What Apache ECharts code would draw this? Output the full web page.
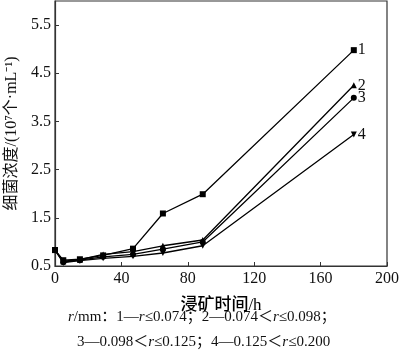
<!DOCTYPE html>
<html><head><meta charset="utf-8">
<script src="https://cdn.jsdelivr.net/npm/echarts@6/dist/echarts.min.js"></script>
<style>html,body{margin:0;padding:0;background:#fff}#c{width:400px;height:355px}</style>
</head><body><div id="c"></div>
<script>
const times = [0, 5, 15, 29, 47, 65, 89, 180];
const s1 = [0.83, 0.62, 0.64, 0.72, 0.86, 1.59, 1.99, 4.98];
const s2 = [0.83, 0.60, 0.63, 0.74, 0.80, 0.92, 1.04, 4.25];
const s3 = [0.83, 0.58, 0.62, 0.69, 0.74, 0.85, 1.00, 3.99];
const s4 = [0.83, 0.57, 0.61, 0.66, 0.70, 0.77, 0.92, 3.23];
const seriesNames = ['1', '2', '3', '4'];
const yTicks = [0.5, 1.5, 2.5, 3.5, 4.5, 5.5];
const xTicks = [0, 40, 80, 120, 160, 200];
const caption1 = '{i|r}/mm：1—{i|r}≤0.074；2—0.074＜{i|r}≤0.098；';
const caption2 = '3—0.098＜{i|r}≤0.125；4—0.125＜{i|r}≤0.200';

const serif = '"Liberation Serif","Times New Roman","Noto Sans CJK SC",serif';
const cjk = '"Liberation Serif","Noto Sans CJK SC",sans-serif';
const symbols = ['rect', 'triangle', 'circle', 'triangle'];
const rotates = [0, 0, 0, 180];
const allData = [s1, s2, s3, s4];

const chart = echarts.init(document.getElementById('c'));
chart.setOption({
  animation: false,
  backgroundColor: '#fff',
  grid: {left: 55, right: 13, top: 1, bottom: 89, show: true, borderColor: '#333', borderWidth: 1.2,
    containLabel: false, outerBoundsMode: 'none'},
  xAxis: {
    type: 'value', min: 0, max: 200, interval: 40,
    name: '浸矿时间/h', nameLocation: 'middle', nameGap: 31,
    nameTextStyle: {fontFamily: cjk, fontSize: 17, fontWeight: 500, color: '#000'},
    axisLine: {lineStyle: {color: '#333', width: 1.2}},
    axisTick: {inside: true, length: 4, lineStyle: {color: '#333'}, customValues: xTicks},
    axisLabel: {fontFamily: serif, fontSize: 16, color: '#111', margin: 5, customValues: xTicks},
    splitLine: {show: false}
  },
  yAxis: {
    type: 'value', min: 0.5, max: 6,
    name: '细菌浓度/(10⁷个·mL⁻¹)', nameLocation: 'middle', nameGap: 34, nameRotate: 90,
    nameTextStyle: {fontFamily: cjk, fontSize: 16, color: '#111'},
    axisLine: {lineStyle: {color: '#333', width: 1.2}},
    axisTick: {inside: true, length: 4, lineStyle: {color: '#333'}, customValues: yTicks},
    axisLabel: {fontFamily: serif, fontSize: 16, color: '#111', margin: 4, customValues: yTicks,
      formatter: v => v.toFixed(1)},
    splitLine: {show: false}
  },
  series: allData.map((d, i) => ({
    type: 'line', name: seriesNames[i],
    data: d.map((v, j) => [times[j], v]),
    symbol: symbols[i], symbolRotate: rotates[i], symbolSize: 6,
    showAllSymbol: true,
    lineStyle: {color: '#000', width: 1.3},
    itemStyle: {color: '#000'},
    endLabel: {show: true, formatter: seriesNames[i], fontFamily: serif, fontSize: 16, color: '#111', distance: 4}
  })),
  graphic: [
    {type: 'text', left: 68, top: 310, style: {text: caption1, fontFamily: cjk, fontSize: 15, fill: '#111',
      rich: {i: {fontFamily: serif, fontStyle: 'italic', fontSize: 15, fill: '#111'}}}},
    {type: 'text', left: 77, top: 335, style: {text: caption2, fontFamily: cjk, fontSize: 15, fill: '#111',
      rich: {i: {fontFamily: serif, fontStyle: 'italic', fontSize: 15, fill: '#111'}}}}
  ]
});
</script></body></html>
